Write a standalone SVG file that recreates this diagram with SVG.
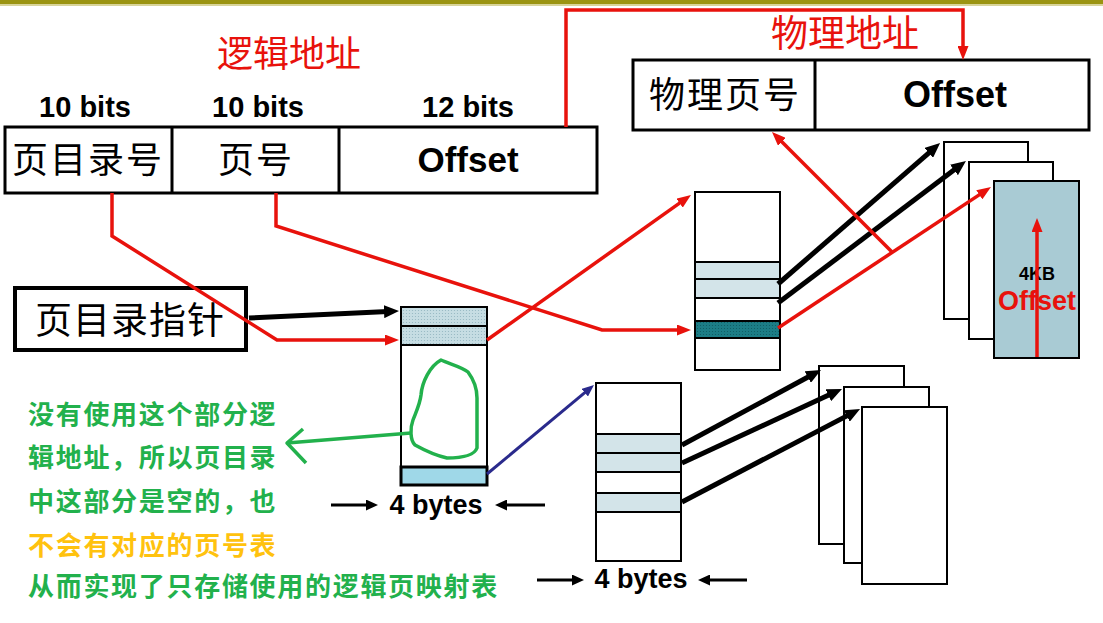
<svg xmlns="http://www.w3.org/2000/svg" width="1103" height="623" viewBox="0 0 1103 623">
<style>
.box{fill:#fff;stroke:#000;stroke-width:3}
.tbl{fill:#fff;stroke:#000;stroke-width:2}
.cjk{font-family:"Noto Sans CJK SC",sans-serif;fill:#000}
.bold{font-family:"Liberation Sans",Arial,sans-serif;font-weight:bold;fill:#000}
.red{stroke:#e8120c;stroke-width:3.5;fill:none}
.blk{stroke:#000;stroke-width:5;fill:none}
.thin{stroke:#000;stroke-width:3;fill:none}
.note{font-family:"Noto Sans CJK SC",sans-serif;font-weight:bold;font-size:26px;letter-spacing:1.7px}
</style>
<defs>
<pattern id="dotsL" width="3" height="3" patternUnits="userSpaceOnUse"><rect width="3" height="3" fill="#c6dde3"/><circle cx="1.5" cy="1.5" r="0.6" fill="#93b6c0"/></pattern>
<pattern id="dotsT" width="3" height="3" patternUnits="userSpaceOnUse"><rect width="3" height="3" fill="#1c7d86"/><circle cx="1.5" cy="1.5" r="0.6" fill="#0d5a61"/></pattern>
<marker id="ahB" markerWidth="15" markerHeight="13" refX="4" refY="6.5" orient="auto" markerUnits="userSpaceOnUse"><path d="M0,0 L15,6.5 L0,13 z" fill="#000"/></marker>
<marker id="ahBs" markerWidth="12" markerHeight="11" refX="3" refY="5.5" orient="auto" markerUnits="userSpaceOnUse"><path d="M0,0 L12,5.5 L0,11 z" fill="#000"/></marker>
<marker id="ahR" markerWidth="14" markerHeight="11" refX="3" refY="5.5" orient="auto" markerUnits="userSpaceOnUse"><path d="M0,0 L14,5.5 L0,11 z" fill="#e8120c"/></marker>
<marker id="ahN" markerWidth="12" markerHeight="10" refX="2" refY="5" orient="auto" markerUnits="userSpaceOnUse"><path d="M0,0 L12,5 L0,10 z" fill="#2a2a8c"/></marker>
</defs>
<rect width="1103" height="623" fill="#fff"/>
<rect x="0" y="0" width="1103" height="4" fill="#9b9412"/>
<rect x="0" y="4" width="1103" height="2" fill="#d8d49a"/>

<g id="logical-address">
<text x="289" y="67" text-anchor="middle" class="cjk" font-size="36" style="fill:#e8120c">逻辑地址</text>
<text x="85" y="117" text-anchor="middle" class="bold" font-size="29">10 bits</text>
<text x="258" y="117" text-anchor="middle" class="bold" font-size="29">10 bits</text>
<text x="468" y="117" text-anchor="middle" class="bold" font-size="29">12 bits</text>
<rect x="5" y="127" width="592" height="66" class="box"/>
<line x1="172" y1="127" x2="172" y2="193" stroke="#000" stroke-width="3"/>
<line x1="339" y1="127" x2="339" y2="193" stroke="#000" stroke-width="3"/>
<text x="88" y="173" text-anchor="middle" class="cjk" font-size="36" letter-spacing="2">页目录号</text>
<text x="256" y="173" text-anchor="middle" class="cjk" font-size="36" letter-spacing="2">页号</text>
<text x="468" y="172" text-anchor="middle" class="bold" font-size="35">Offset</text>
</g>

<g id="physical-address">
<text x="845" y="47" text-anchor="middle" class="cjk" font-size="37" style="fill:#e8120c">物理地址</text>
<rect x="633" y="60" width="456" height="70" class="box"/>
<line x1="815" y1="60" x2="815" y2="130" stroke="#000" stroke-width="3"/>
<text x="725" y="108" text-anchor="middle" class="cjk" font-size="36" letter-spacing="2">物理页号</text>
<text x="955" y="107" text-anchor="middle" class="bold" font-size="36">Offset</text>
</g>

<g id="pd-pointer">
<rect x="15" y="288" width="231" height="62" fill="#fff" stroke="#000" stroke-width="4"/>
<text x="130" y="334" text-anchor="middle" class="cjk" font-size="37" letter-spacing="1">页目录指针</text>
</g>

<g id="page-directory">
<rect x="401" y="307" width="86" height="178" class="tbl"/>
<rect x="401" y="307" width="86" height="19" fill="url(#dotsL)" stroke="#000" stroke-width="2"/>
<rect x="401" y="326" width="86" height="19" fill="url(#dotsL)" stroke="#000" stroke-width="2"/>
<rect x="401" y="467" width="86" height="18" fill="#9fd8e8" stroke="#000" stroke-width="3"/>
</g>

<g id="page-table-upper">
<rect x="695" y="192" width="85" height="178" class="tbl"/>
<rect x="695" y="262" width="85" height="17" fill="#d3e4e9" stroke="#000" stroke-width="2"/>
<rect x="695" y="279" width="85" height="19" fill="#d3e4e9" stroke="#000" stroke-width="2"/>
<rect x="695" y="321" width="85" height="17" fill="url(#dotsT)" stroke="#000" stroke-width="2"/>
</g>

<g id="phys-pages-upper">
<rect x="944" y="142" width="84" height="177" class="tbl"/>
<rect x="969" y="162" width="84" height="177" class="tbl"/>
<rect x="994" y="181" width="85" height="177" fill="#a9cbd4" stroke="#000" stroke-width="2"/>
<text x="1037" y="280" text-anchor="middle" class="bold" font-size="18">4KB</text>
</g>

<g id="page-table-lower">
<rect x="596" y="383" width="85" height="178" class="tbl"/>
<rect x="596" y="434" width="85" height="19" fill="#d3e4e9" stroke="#000" stroke-width="2"/>
<rect x="596" y="453" width="85" height="19" fill="#d3e4e9" stroke="#000" stroke-width="2"/>
<rect x="596" y="493" width="85" height="19" fill="#d3e4e9" stroke="#000" stroke-width="2"/>
</g>

<g id="phys-pages-lower">
<rect x="819" y="366" width="85" height="178" class="tbl"/>
<rect x="844" y="387" width="85" height="176" class="tbl"/>
<rect x="862" y="407" width="85" height="177" class="tbl"/>
</g>

<g id="connectors">
<path d="M566,127 L566,10 L963,10 L963,49" class="red" marker-end="url(#ahR)"/>
<line x1="249" y1="318" x2="388" y2="311.5" class="blk" marker-end="url(#ahB)"/>
<path d="M112,193 L112,236 L277,340 L388,340" class="red" marker-end="url(#ahR)"/>
<path d="M276,193 L276,226 L602,330 L680,330" class="red" marker-end="url(#ahR)"/>
<line x1="487" y1="340" x2="682" y2="201.4" class="red" marker-end="url(#ahR)"/>
<line x1="778" y1="284" x2="931.8" y2="150.3" class="blk" marker-end="url(#ahB)"/>
<line x1="778" y1="303" x2="957.2" y2="167.6" class="blk" marker-end="url(#ahB)"/>
<line x1="778" y1="328" x2="981.8" y2="193.1" class="red" marker-end="url(#ahR)"/>
<line x1="892" y1="252" x2="779.8" y2="139.7" class="red" marker-end="url(#ahR)"/>
<line x1="1037" y1="357" x2="1037" y2="229" class="red" marker-end="url(#ahR)"/>
<line x1="487" y1="474" x2="586.3" y2="391.4" stroke="#2a2a8c" stroke-width="3" marker-end="url(#ahN)"/>
<line x1="682" y1="445" x2="811.3" y2="375.2" class="blk" marker-end="url(#ahB)"/>
<line x1="682" y1="463" x2="832" y2="393.6" class="blk" marker-end="url(#ahB)"/>
<line x1="682" y1="502" x2="850.3" y2="414.1" class="blk" marker-end="url(#ahB)"/>
<line x1="331" y1="505" x2="369" y2="505" class="thin" marker-end="url(#ahBs)"/>
<line x1="545" y1="505" x2="504" y2="505" class="thin" marker-end="url(#ahBs)"/>
<line x1="537" y1="580" x2="575" y2="580" class="thin" marker-end="url(#ahBs)"/>
<line x1="747" y1="580" x2="707" y2="580" class="thin" marker-end="url(#ahBs)"/>
</g>

<g id="labels">
<text x="1037" y="310" text-anchor="middle" class="bold" font-size="27" style="fill:#e8120c">Offset</text>
<text x="436" y="514" text-anchor="middle" class="bold" font-size="27">4 bytes</text>
<text x="641" y="588" text-anchor="middle" class="bold" font-size="27">4 bytes</text>
</g>

<g id="annotation">
<path d="M441,360 C450,364 462,367 468,372 C474,380 477,388 477,398 L477,448 C474,456 462,458 447,458 C438,456 424,450 415,445 C410,440 410,428 413,420 C416,412 420,404 421,395 C422,382 430,366 441,360 Z" fill="none" stroke="#22b14c" stroke-width="3.5" stroke-linejoin="round"/>
<path d="M411,433 L287,443" fill="none" stroke="#22b14c" stroke-width="3.5"/>
<path d="M303,429 L287,443 L306,463" fill="none" stroke="#22b14c" stroke-width="3.5" stroke-linejoin="round"/>
<text x="28" y="424" class="note" fill="#22b14c">没有使用这个部分逻</text>
<text x="28" y="467" class="note" fill="#22b14c">辑地址，所以页目录</text>
<text x="28" y="511" class="note" fill="#22b14c">中这部分是空的，也</text>
<text x="28" y="555" class="note" fill="#ffc20e">不会有对应的页号表</text>
<text x="28" y="596" class="note" fill="#22b14c">从而实现了只存储使用的逻辑页映射表</text>
</g>
</svg>
